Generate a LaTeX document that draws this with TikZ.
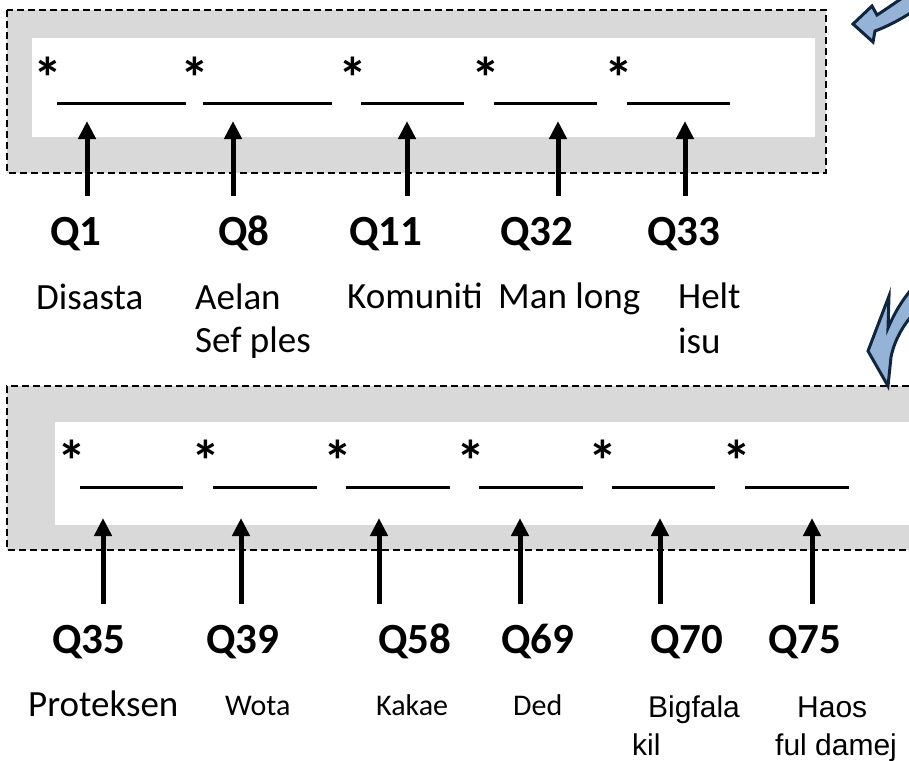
\documentclass[tikz,border=0pt]{standalone}
\usepackage{fontspec}
\setmainfont{Carlito}
\newfontfamily\arialfont{Liberation Sans}
\usetikzlibrary{arrows.meta}
\definecolor{framegray}{HTML}{D9D9D9}
\definecolor{bluefill}{HTML}{95B3D7}
\definecolor{navy}{HTML}{10263F}
\tikzset{
  qlabel/.style={anchor=base west, inner sep=0pt, font=\fontsize{43}{50}\selectfont\bfseries},
  desc/.style={anchor=base west, inner sep=0pt, font=\fontsize{37}{43}\selectfont},
  descsmall/.style={anchor=base west, inner sep=0pt, font=\fontsize{30}{36}\selectfont},
  descarial/.style={anchor=base west, inner sep=0pt, font=\arialfont\fontsize{30}{36}\selectfont},
  star/.style={anchor=base, inner sep=0pt, font=\fontsize{58}{58}\selectfont\bfseries},
  blank/.style={line width=3pt},
  uparrow/.style={line width=5pt, -{Triangle[width=17pt,length=18pt]}},
  frame/.style={dash pattern=on 7pt off 4pt, line width=1.8pt},
  bent/.style={fill=bluefill, draw=navy, line width=3pt, line join=miter}
}
\begin{document}
\begin{tikzpicture}[x=1pt,y=-1pt]
\useasboundingbox (0,0) rectangle (909,760);
\clip (0,0) rectangle (909,760);

% ---- upper answer strip ----
\fill[framegray] (7,10) rectangle (826,173);
\fill[white] (32,38) rectangle (815,137);
\draw[frame] (7,10) rectangle (826,173);

\foreach \x/\n in {48/1,195/2,353/3,486/4,619/5}
  \node[star] (s\n) at (\x,98) {*};
\foreach \a/\b/\n in {57/186/1,203/332/2,361/464/3,494/597/4,627/730/5}{
  \coordinate (u\n l) at (\a,103);
  \coordinate (u\n r) at (\b,103);
  \draw[blank] (u\n l) -- (u\n r);
}
\foreach \x/\n in {87/1,233/2,407/3,558/4,685/5}{
  \coordinate (t\n) at (\x,196);
  \coordinate (h\n) at (\x,121);
  \draw[uparrow] (t\n) -- (h\n);
}

\node[qlabel] (q1)  at (50,245)  {Q1};
\node[qlabel] (q8)  at (218,245) {Q8};
\node[qlabel] (q11) at (349,245) {Q11};
\node[qlabel] (q32) at (500,245) {Q32};
\node[qlabel] (q33) at (647,245) {Q33};

\node[desc] (d1)  at (36,309)  {Disasta};
\node[desc] (d8a) at (195,309) {Aelan};
\node[desc] (d8b) at (195,352) {Sef ples};
\node[desc] (d11) at (347,308) {Komuniti};
\node[desc] (d32) at (498,308) {Man long};
\node[desc] (d33a) at (678,308) {Helt};
\node[desc] (d33b) at (678,353) {isu};

% ---- lower answer strip ----
\fill[framegray] (7,386) rectangle (920,550);
\fill[white] (55,422) rectangle (920,525);
\draw[frame] (920,386) -- (7,386) -- (7,550) -- (920,550);

\foreach \x/\n in {72/6,206/7,338/8,471/9,603/10,737/11}
  \node[star] (s\n) at (\x,481) {*};
\foreach \a/\b/\n in {80/183/6,213/317/7,346/450/8,479/583/9,612/715/10,745/849/11}{
  \coordinate (u\n l) at (\a,487);
  \coordinate (u\n r) at (\b,487);
  \draw[blank] (u\n l) -- (u\n r);
}
\foreach \x/\n in {103/6,241/7,379/8,520/9,660/10,812/11}{
  \coordinate (t\n) at (\x,604);
  \coordinate (h\n) at (\x,518);
  \draw[uparrow] (t\n) -- (h\n);
}

\node[qlabel] (q35) at (52,653)  {Q35};
\node[qlabel] (q39) at (206,653) {Q39};
\node[qlabel] (q58) at (378,653) {Q58};
\node[qlabel] (q69) at (501,653) {Q69};
\node[qlabel] (q70) at (650,653) {Q70};
\node[qlabel] (q75) at (768,653) {Q75};

\node[desc] (d35) at (28,716) {Proteksen};
\node[descsmall] (d39) at (225,715) {Wota};
\node[descsmall] (d58) at (376,715) {Kakae};
\node[descsmall] (d69) at (513,715) {Ded};
\node[descarial] (d70a) at (648,717) {Bigfala};
\node[descarial] (d70b) at (632,755) {kil};
\node[descarial] (d75a) at (797,717) {Haos};
\node[descarial] (d75b) at (775,755) {ful damej};

% ---- curved pointers at the right edge ----
\draw[bent] (853,24) -- (872,6) -- (877,15)
  .. controls (888,8) and (896,2) .. (904,-3) -- (915,-3) -- (915,10)
  .. controls (900,20) and (886,27) .. (875,31) -- (873,42) -- cycle;
\draw[bent] (888,386) -- (868,351) -- (889,296) -- (888,328)
  .. controls (895,312) and (902,300) .. (915,285) -- (915,312)
  .. controls (902,326) and (894,342) .. (891,357) -- cycle;
\end{tikzpicture}
\end{document}
